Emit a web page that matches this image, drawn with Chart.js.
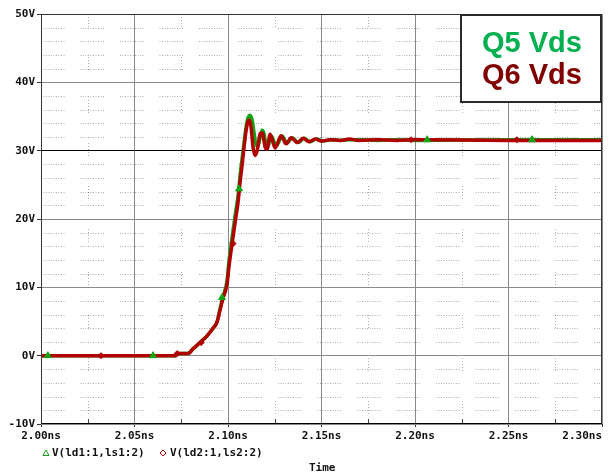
<!DOCTYPE html>
<html>
<head>
<meta charset="utf-8">
<script src="https://cdn.jsdelivr.net/npm/chart.js@4.4.0/dist/chart.umd.min.js"></script>
<style>
html,body{margin:0;padding:0;background:#fff;}
#wrap{width:610px;height:475px;position:relative;}
</style>
</head>
<body>
<div id="wrap"><canvas id="c" width="610" height="475"></canvas></div>
<script>
// ---- data (time in ns, voltage in V) ----
const timeQ5 = [2.000,2.0720,2.0725,2.0786,2.0813,2.0850,2.0888,2.0920,2.0941,2.0957,
  2.0973,2.0995,2.1005,2.1021,2.1038,2.1054,2.1065,2.1075,2.1086,2.1097,
  2.1107,2.1118,2.1129,2.1140,2.1150,2.1161,2.1172,2.1183,2.1193,2.1204,
  2.1215,2.1231,2.1258,2.1290,2.1316,2.1343,2.1375,2.1407,2.1440,2.1472,
  2.1510,2.1550,2.1600,2.1650,2.1700,2.1800,2.1900,2.2000,2.2500,2.3000];
const vQ5 = [0,0,0.3,0.3,1.0,1.9,2.9,4.0,4.9,6.8,
  8.6,11.0,13.8,17.2,20.5,23.5,26.5,28.8,31.2,33.5,
  34.8,35.2,34.5,32.5,30.8,30.7,32.0,33.0,32.5,30.8,
  30.7,32.2,30.7,32.1,31.1,31.9,31.2,31.8,31.3,31.7,
  31.4,31.6,31.5,31.6,31.6,31.5,31.6,31.5,31.6,31.6];
const timeQ6 = [2.000,2.0720,2.0725,2.0786,2.0813,2.0850,2.0888,2.0920,2.0941,2.0957,
  2.0973,2.0995,2.1005,2.1021,2.1038,2.1054,2.1065,2.1075,2.1086,2.1097,
  2.1107,2.1113,2.1123,2.1134,2.1145,2.1156,2.1172,2.1183,2.1199,2.1209,
  2.1225,2.1252,2.1284,2.1311,2.1338,2.1370,2.1402,2.1434,2.1466,2.1503,
  2.1546,2.1600,2.1650,2.1700,2.1800,2.1900,2.2000,2.2500,2.3000];
const vQ6 = [0,0,0.3,0.3,1.0,1.9,2.9,4.0,4.9,6.6,
  8.4,10.5,13.0,16.2,19.5,22.5,25.5,27.8,30.5,33.0,
  34.3,34.5,33.5,30.5,29.3,30.0,32.5,32.6,30.5,30.2,
  32.4,30.4,32.2,31.0,31.9,31.2,31.8,31.3,31.7,31.4,
  31.6,31.5,31.7,31.5,31.6,31.5,31.6,31.5,31.5];
// trace markers (PSpice symbols)
const markTimeQ5 = [2.0037,2.0599,2.0968,2.1059,2.2065,2.2626];
const markVQ5 = [0,0,8.5,24.4,31.6,31.6];
const markTimeQ6 = [2.0321,2.0728,2.0856,2.1027,2.1979,2.2545];
const markVQ6 = [0,0.3,1.9,16.4,31.6,31.6];
// axes / labels
const xTicks = [2.00,2.05,2.10,2.15,2.20,2.25,2.30];
const yTicks = [-10,0,10,20,30,40,50];
const legendLabels = ["V(ld1:1,ls1:2)","V(ld2:1,ls2:2)"];
const insetLabels = ["Q5 Vds","Q6 Vds"];
const xTitle = "Time";

const GREEN = '#13a313';
const RED = '#b00000';
const toPts = (t,v) => t.map((x,i)=>({x:x,y:v[i]}));
const MONO = 'bold 11px "DejaVu Sans Mono", "Liberation Mono", monospace';

const decor = {
  id:'decor',
  beforeDatasetsDraw(chart){
    const {ctx, chartArea:a, scales:{x,y}} = chart;
    ctx.save();
    ctx.strokeStyle = 'rgba(60,60,60,0.42)';
    ctx.lineWidth = 1;
    const pat = [];
    for(let i=0;i<9;i++){pat.push(1,1.5);} pat.push(1,16);
    ctx.setLineDash(pat);
    for(let v=-8; v<50; v+=2){
      if(v%10===0) continue;
      const py = Math.round(y.getPixelForValue(v))+0.5;
      ctx.beginPath(); ctx.moveTo(a.left, py); ctx.lineTo(a.right, py); ctx.stroke();
    }
    ctx.setLineDash([1,2,1,2,1,2,1,2,1,30]);
    for(let t=2.025; t<2.3; t+=0.05){
      const px = Math.round(x.getPixelForValue(t))+0.5;
      ctx.beginPath(); ctx.moveTo(px, a.top); ctx.lineTo(px, a.bottom); ctx.stroke();
    }
    ctx.setLineDash([]);
    ctx.strokeStyle = '#444';
    for(let t=2.025; t<2.3; t+=0.05){
      const px = Math.round(x.getPixelForValue(t))+0.5;
      ctx.beginPath(); ctx.moveTo(px, a.bottom); ctx.lineTo(px, a.bottom-5); ctx.stroke();
    }
    ctx.restore();
  },
  afterDraw(chart){
    const {ctx, chartArea:a} = chart;
    ctx.save();
    // frame
    ctx.strokeStyle = '#333'; ctx.lineWidth = 1;
    ctx.strokeRect(a.left+0.5, a.top+0.5, a.right-a.left-1, a.bottom-a.top-1);
    ctx.strokeStyle = '#000';
    ctx.beginPath(); ctx.moveTo(a.left, a.bottom-0.5); ctx.lineTo(a.right, a.bottom-0.5); ctx.stroke();
    // inset box
    const bx = 460, by = a.top, bw = a.right - 460, bh = 89;
    ctx.fillStyle = '#fff'; ctx.fillRect(bx, by, bw, bh);
    ctx.strokeStyle = '#2a2a2a'; ctx.lineWidth = 2;
    ctx.strokeRect(bx+1, by+1, bw-2, bh-2);
    ctx.font = 'bold 29px "Liberation Sans", Arial, sans-serif';
    ctx.textAlign = 'center'; ctx.textBaseline = 'middle';
    ctx.fillStyle = '#00b050'; ctx.fillText(insetLabels[0], bx+bw/2+1, by+30);
    ctx.fillStyle = '#800000'; ctx.fillText(insetLabels[1], bx+bw/2+1, by+62);
    // bottom legend
    ctx.font = MONO; ctx.textAlign = 'left'; ctx.fillStyle = '#111';
    ctx.lineWidth = 1;
    ctx.strokeStyle = GREEN;
    ctx.beginPath(); ctx.moveTo(46,450); ctx.lineTo(49,455.5); ctx.lineTo(43,455.5); ctx.closePath(); ctx.stroke();
    ctx.fillText(legendLabels[0], 52, 453);
    ctx.strokeStyle = RED;
    ctx.beginPath(); ctx.moveTo(163,450); ctx.lineTo(166,453); ctx.lineTo(163,456); ctx.lineTo(160,453); ctx.closePath(); ctx.stroke();
    ctx.fillStyle = '#111';
    ctx.fillText(legendLabels[1], 170, 453);
    ctx.fillText(xTitle, 309, 468);
    ctx.restore();
  }
};

new Chart(document.getElementById('c'), {
  type:'scatter',
  data:{
    datasets:[
      {label:'Q6 markers', data: toPts(markTimeQ6, markVQ6), showLine:false,
       pointStyle:'rectRot', pointRadius:3, backgroundColor:RED, borderColor:RED, order:-1},
      {label:'Q5 markers', data: toPts(markTimeQ5, markVQ5), showLine:false,
       pointStyle:'triangle', pointRadius:4, backgroundColor:GREEN, borderColor:GREEN, order:-2},
      {label:legendLabels[1], data: toPts(timeQ6, vQ6), showLine:true, borderColor:RED,
       borderWidth:3.5, pointRadius:0, cubicInterpolationMode:'monotone', order:0},
      {label:legendLabels[0], data: toPts(timeQ5, vQ5), showLine:true, borderColor:GREEN,
       borderWidth:3.5, pointRadius:0, cubicInterpolationMode:'monotone', order:1}
    ]
  },
  options:{
    responsive:false, animation:false, devicePixelRatio:1,
    layout:{padding:{top:14, right:8, left:0, bottom:32}},
    plugins:{legend:{display:false}, tooltip:{enabled:false}},
    scales:{
      x:{type:'linear', min:2.0, max:2.3,
        afterBuildTicks(s){ s.ticks = xTicks.map(v=>({value:v})); },
        afterFit(s){ s.height = 19; s.paddingLeft = 0; s.paddingRight = 0; },
        grid:{color:'#8a8a8a', lineWidth:1, tickLength:3, tickColor:'#333'},
        border:{display:false},
        ticks:{color:'#111', font:{family:'"DejaVu Sans Mono", monospace', size:11, weight:'bold'},
          padding:3, maxRotation:0,
          callback:(v,i,arr)=> v.toFixed(2)+'ns' + (i===arr.length-1 ? '      ' : '')}
      },
      y:{type:'linear', min:-10, max:50,
        afterBuildTicks(s){ s.ticks = yTicks.map(v=>({value:v})); },
        afterFit(s){ s.width = 41; s.paddingTop = 0; s.paddingBottom = 0; },
        grid:{color:c=> (c.tick && c.tick.value===30) ? '#000' : '#8a8a8a', lineWidth:1, tickLength:4, tickColor:'#333'},
        border:{display:false},
        ticks:{color:'#111', font:{family:'"DejaVu Sans Mono", monospace', size:11, weight:'bold'},
          padding:2, callback:v=> v+'V'}
      }
    }
  },
  plugins:[decor]
});
</script>
</body>
</html>
